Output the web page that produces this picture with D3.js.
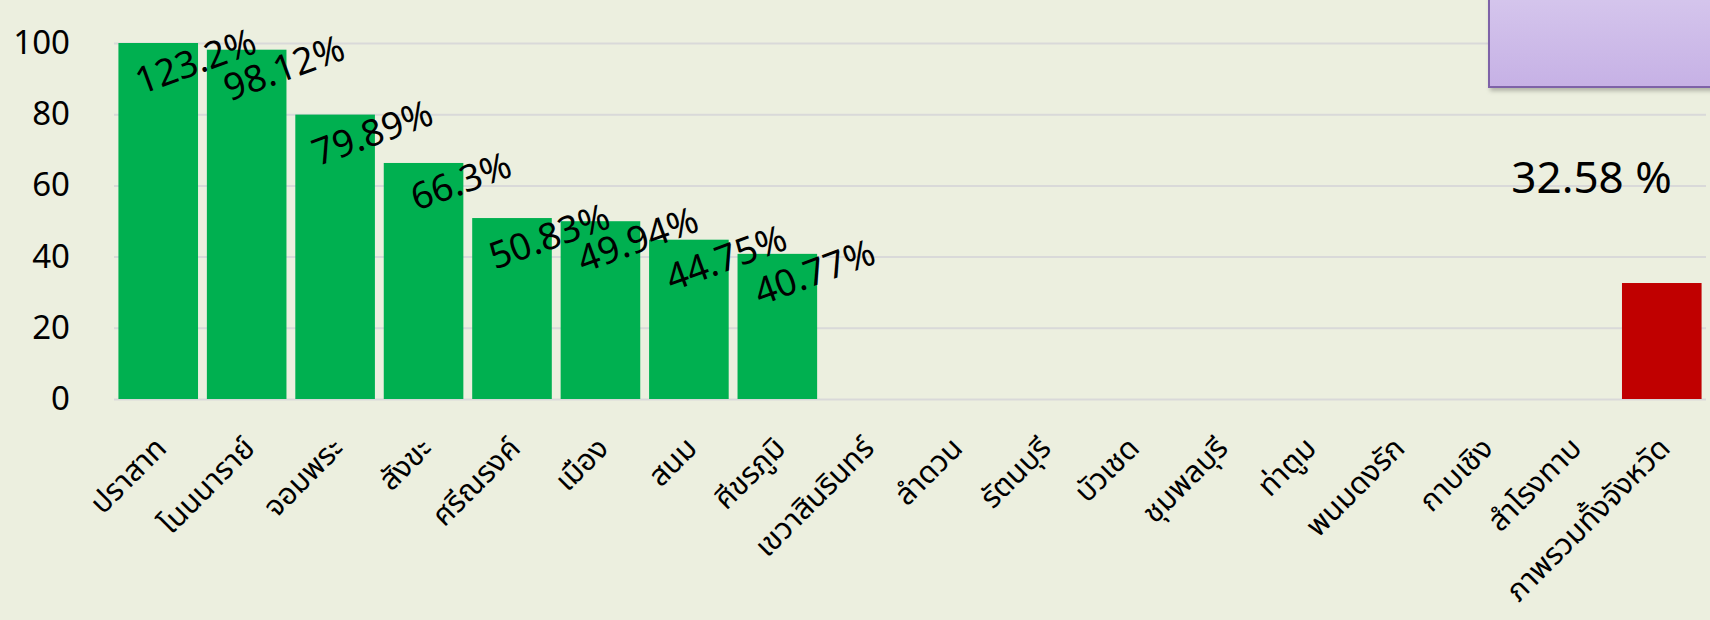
<!DOCTYPE html>
<html>
<head>
<meta charset="utf-8">
<script src="https://cdn.jsdelivr.net/npm/d3@7"></script>
<style>
  body { margin: 0; background: #ecefdf; }
  svg { display: block; }
  .tick text { fill: #000; }
</style>
</head>
<body>
<svg width="1710" height="620"></svg>
<script>
var districts = ["ปราสาท", "โนนนาราย์", "จอมพระ", "สังขะ", "ศรีณรงค์", "เมือง", "สนม", "ศีขรภูมิ",
  "เขวาสินรินทร์", "ลำดวน", "รัตนบุรี", "บัวเชด", "ชุมพลบุรี", "ท่าตูม", "พนมดงรัก", "กาบเชิง",
  "สำโรงทาบ", "ภาพรวมทั้งจังหวัด"];
var percents = [123.2, 98.12, 79.89, 66.3, 50.83, 49.94, 44.75, 40.77,
  0, 0, 0, 0, 0, 0, 0, 0, 0, 32.58];
var percentLabels = ["123.2%", "98.12%", "79.89%", "66.3%", "50.83%", "49.94%", "44.75%", "40.77%",
  "", "", "", "", "", "", "", "", "", "32.58 %"];
var yTicks = [0, 20, 40, 60, 80, 100];

var svg = d3.select("svg"),
    width = +svg.attr("width"),
    height = +svg.attr("height");

var thaiFont = "'Noto Sans Thai', 'Leelawadee UI', Tahoma, 'DejaVu Sans', 'Noto Sans', sans-serif";

var x = d3.scaleBand()
    .domain(districts)
    .range([114, 1706])
    .paddingInner(0.1)
    .paddingOuter(0.05);

var y = d3.scaleLinear()
    .domain([0, 100])
    .range([399, 43]);

// gridlines + y labels
var yAxis = svg.append("g")
    .attr("transform", "translate(114,0)")
    .call(d3.axisLeft(y).tickValues(yTicks).tickSize(-(1706 - 114)).tickPadding(44));
yAxis.select(".domain").remove();
yAxis.selectAll(".tick line").attr("stroke", "#d9d9d9").attr("stroke-width", 2);
yAxis.selectAll(".tick text")
    .style("font-family", thaiFont)
    .style("font-size", "33px");

// purple box top right (clipped text box)
var defs = svg.append("defs");
var grad = defs.append("linearGradient").attr("id", "purp").attr("x1", 0).attr("y1", 0).attr("x2", 0).attr("y2", 1);
grad.append("stop").attr("offset", "0%").attr("stop-color", "#d6c7ed");
grad.append("stop").attr("offset", "100%").attr("stop-color", "#c6b1e5");
var shadow = defs.append("filter").attr("id", "shadow").attr("x", "-10%").attr("y", "-10%").attr("width", "130%").attr("height", "140%");
shadow.append("feDropShadow").attr("dx", 2).attr("dy", 3).attr("stdDeviation", 2).attr("flood-color", "#000").attr("flood-opacity", 0.25);
svg.append("rect")
    .attr("x", 1489).attr("y", -10)
    .attr("width", 240).attr("height", 97)
    .attr("fill", "url(#purp)")
    .attr("stroke", "#7e62a8").attr("stroke-width", 2)
    .attr("filter", "url(#shadow)");

// bars
svg.append("g")
    .selectAll("rect")
    .data(percents)
    .enter().append("rect")
      .attr("x", function(d, i) { return x(districts[i]); })
      .attr("width", x.bandwidth())
      .attr("y", function(d) { return y(Math.min(d, 100)); })
      .attr("height", function(d) { return y(0) - y(Math.min(d, 100)); })
      .attr("fill", function(d, i) { return i == districts.length - 1 ? "#c00000" : "#00b050"; });

// rotated value labels on the green bars
svg.append("g")
    .selectAll("text")
    .data(percents.slice(0, districts.length - 1))
    .enter().append("text")
      .filter(function(d, i) { return percentLabels[i] != ""; })
      .attr("transform", function(d, i) {
        var cx = x(districts[i]) + x.bandwidth() / 2;
        return "translate(" + (cx + 38) + "," + (y(Math.min(d, 100)) + 20) + ") rotate(-20)";
      })
      .attr("text-anchor", "middle")
      .attr("dominant-baseline", "central")
      .style("font-family", thaiFont)
      .style("font-size", "37px")
      .text(function(d, i) { return percentLabels[i]; });

// province total label, moved up above the red bar
var last = districts.length - 1;
svg.append("text")
    .attr("x", x(districts[last]) + x.bandwidth() / 2 + 10)
    .attr("y", y(percents[last]) - 90)
    .attr("text-anchor", "end")
    .style("font-family", thaiFont)
    .style("font-size", "44px")
    .text(percentLabels[last]);

// x labels
svg.append("g")
    .selectAll("text")
    .data(districts)
    .enter().append("text")
      .attr("transform", function(d) {
        return "translate(" + (x(d) + x.bandwidth() / 2 + 10) + ",450) rotate(-45)";
      })
      .attr("text-anchor", "end")
      .style("font-family", thaiFont)
      .style("font-size", "30px")
      .text(function(d) { return d; });
</script>
</body>
</html>
